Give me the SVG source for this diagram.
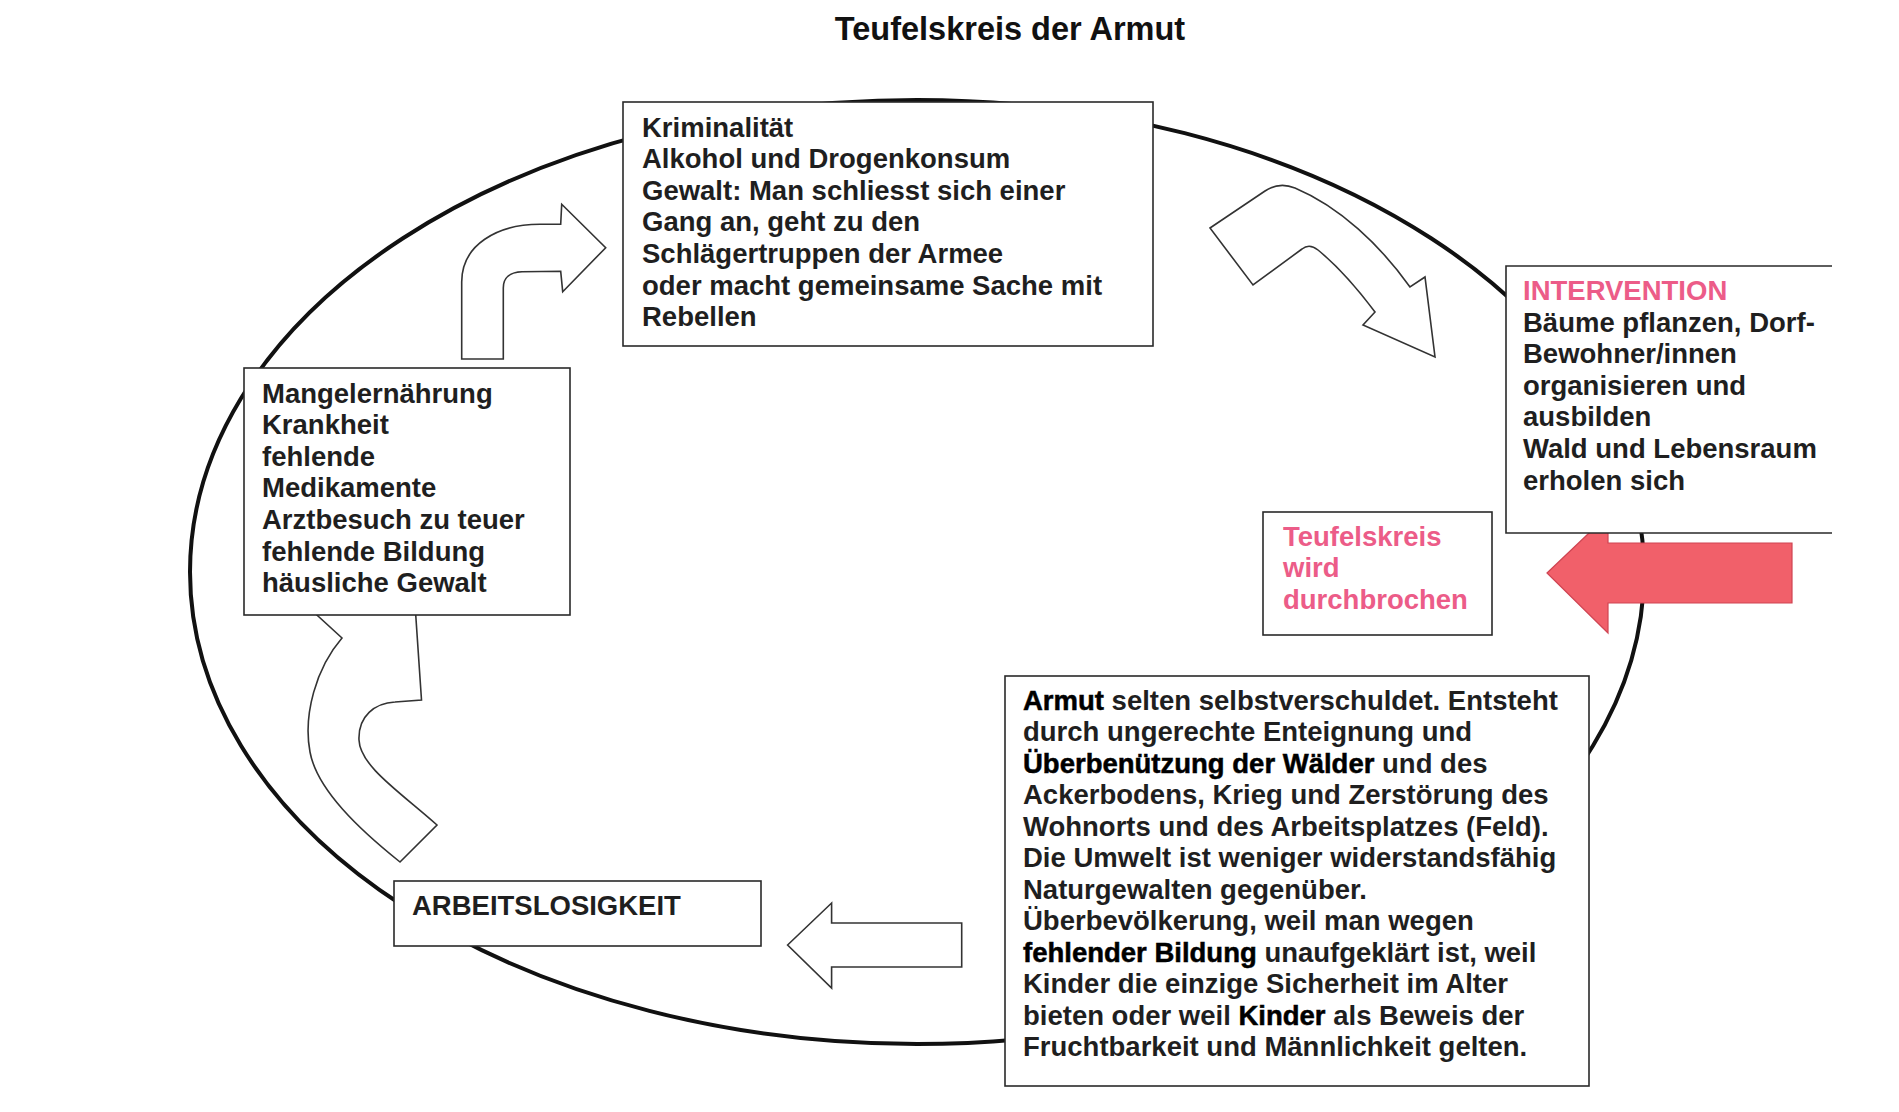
<svg xmlns="http://www.w3.org/2000/svg" width="1899" height="1112" viewBox="0 0 1899 1112">
<style>
  .bg { fill: #ffffff; }
  .box { fill: #ffffff; stroke: #2a2a2a; stroke-width: 1.6; }
  .edge { fill: none; stroke: #2a2a2a; stroke-width: 1.6; }
  .cycle { fill: none; stroke: #111111; stroke-width: 4; }
  .harrow { fill: #ffffff; stroke: #333333; stroke-width: 1.6; stroke-linejoin: miter; }
  .rarrow { fill: #f1606a; stroke: #cf4452; stroke-width: 1.2; }
  .t { font-family: "Liberation Sans", Arial, Helvetica, sans-serif; font-weight: 700; font-size: 27.5px; fill: #1f1f1f; }
  .pink { fill: #ec5c88; }
  .em { fill: #000000; stroke: #000000; stroke-width: 0.5; }
  .title { font-family: "Liberation Sans", Arial, Helvetica, sans-serif; font-weight: 700; font-size: 32.5px; fill: #111111; text-anchor: middle; }
</style>
<rect class="bg" x="0" y="0" width="1899" height="1112"/>

<text class="title" x="1010" y="40">Teufelskreis der Armut</text>

<g id="cycle">
  <ellipse class="cycle" cx="917" cy="572" rx="727" ry="472"/>
</g>

<g id="connectors">
  <path id="arrow-mangel-krim" class="harrow" d="M461.7,359 L461.7,282 C461.7,245 497,224.3 540,224.3 L560.7,224.3 L561.7,204.3 L605.7,247.7 L562.7,291.7 L560.7,271.3 L522,271.7 C510,272 503.3,278 503.3,288 L503.3,359 Z"/>
  <path id="arrow-krim-int" class="harrow" d="M1210,228 L1265,191 C1274,185 1285,184 1295,188 C1340,207 1380,245 1410,287 L1425,277 L1435,357 L1363,325 L1375,312 C1360,292 1340,268 1318,250 C1313,246 1307,245 1302,249 L1253,285 Z"/>
  <path id="arrow-arbeit-mangel" class="harrow" d="M412,560 L306,605 L342,638 C316,668 303,715 310,752 C317,790 360,830 400,862 L437,825 C400,792 360,766 359,740 C358,716 375,703 395,702 L421.5,700 Z"/>
  <path id="arrow-armut-arbeit" class="harrow" d="M787.6,945 L831.6,903 L831.6,923 L961.7,923 L961.7,967 L831.6,967 L831.6,988 Z"/>
  <path id="arrow-intervention" class="rarrow" d="M1547,573 L1608,515 L1608,543 L1792,543 L1792,603 L1608,603 L1608,633 Z"/>
</g>

<g id="node-kriminalitaet">
  <rect class="box" x="623" y="102" width="530" height="244"/>
  <text class="t">
    <tspan x="642" y="136.5">Kriminalität</tspan>
    <tspan x="642" y="168.1">Alkohol und Drogenkonsum</tspan>
    <tspan x="642" y="199.7">Gewalt: Man schliesst sich einer</tspan>
    <tspan x="642" y="231.3">Gang an, geht zu den</tspan>
    <tspan x="642" y="262.9">Schlägertruppen der Armee</tspan>
    <tspan x="642" y="294.5">oder macht gemeinsame Sache mit</tspan>
    <tspan x="642" y="326.1">Rebellen</tspan>
  </text>
</g>

<g id="node-mangel">
  <rect class="box" x="244" y="368" width="326" height="247"/>
  <text class="t">
    <tspan x="262" y="402.5">Mangelernährung</tspan>
    <tspan x="262" y="434.1">Krankheit</tspan>
    <tspan x="262" y="465.7">fehlende</tspan>
    <tspan x="262" y="497.3">Medikamente</tspan>
    <tspan x="262" y="528.9">Arztbesuch zu teuer</tspan>
    <tspan x="262" y="560.5">fehlende Bildung</tspan>
    <tspan x="262" y="592.1">häusliche Gewalt</tspan>
  </text>
</g>

<g id="node-intervention">
  <rect x="1506" y="266" width="326" height="267" fill="#ffffff"/>
  <path class="edge" d="M1832,266 H1506 V533 H1832"/>
  <text class="t">
    <tspan class="pink" x="1523" y="300">INTERVENTION</tspan>
    <tspan x="1523" y="331.6">Bäume pflanzen, Dorf-</tspan>
    <tspan x="1523" y="363.2">Bewohner/innen</tspan>
    <tspan x="1523" y="394.8">organisieren und</tspan>
    <tspan x="1523" y="426.4">ausbilden</tspan>
    <tspan x="1523" y="458">Wald und Lebensraum</tspan>
    <tspan x="1523" y="489.6">erholen sich</tspan>
  </text>
</g>

<g id="node-durchbrochen">
  <rect class="box" x="1263" y="512" width="229" height="123"/>
  <text class="t pink">
    <tspan x="1283" y="545.5">Teufelskreis</tspan>
    <tspan x="1283" y="577">wird</tspan>
    <tspan x="1283" y="608.5">durchbrochen</tspan>
  </text>
</g>

<g id="node-armut">
  <rect class="box" x="1005" y="676" width="584" height="410"/>
  <text class="t">
    <tspan x="1023" y="710"><tspan class="em">Armut</tspan> selten selbstverschuldet. Entsteht</tspan>
    <tspan x="1023" y="741.45">durch ungerechte Enteignung und</tspan>
    <tspan x="1023" y="772.9"><tspan class="em">Überbenützung der Wälder</tspan> und des</tspan>
    <tspan x="1023" y="804.35">Ackerbodens, Krieg und Zerstörung des</tspan>
    <tspan x="1023" y="835.8">Wohnorts und des Arbeitsplatzes (Feld).</tspan>
    <tspan x="1023" y="867.25">Die Umwelt ist weniger widerstandsfähig</tspan>
    <tspan x="1023" y="898.7">Naturgewalten gegenüber.</tspan>
    <tspan x="1023" y="930.15">Überbevölkerung, weil man wegen</tspan>
    <tspan x="1023" y="961.6"><tspan class="em">fehlender Bildung</tspan> unaufgeklärt ist, weil</tspan>
    <tspan x="1023" y="993.05">Kinder die einzige Sicherheit im Alter</tspan>
    <tspan x="1023" y="1024.5">bieten oder weil <tspan class="em">Kinder</tspan> als Beweis der</tspan>
    <tspan x="1023" y="1055.95">Fruchtbarkeit und Männlichkeit gelten.</tspan>
  </text>
</g>

<g id="node-arbeitslosigkeit">
  <rect class="box" x="394" y="881" width="367" height="65"/>
  <text class="t" x="412" y="915">ARBEITSLOSIGKEIT</text>
</g>
</svg>
